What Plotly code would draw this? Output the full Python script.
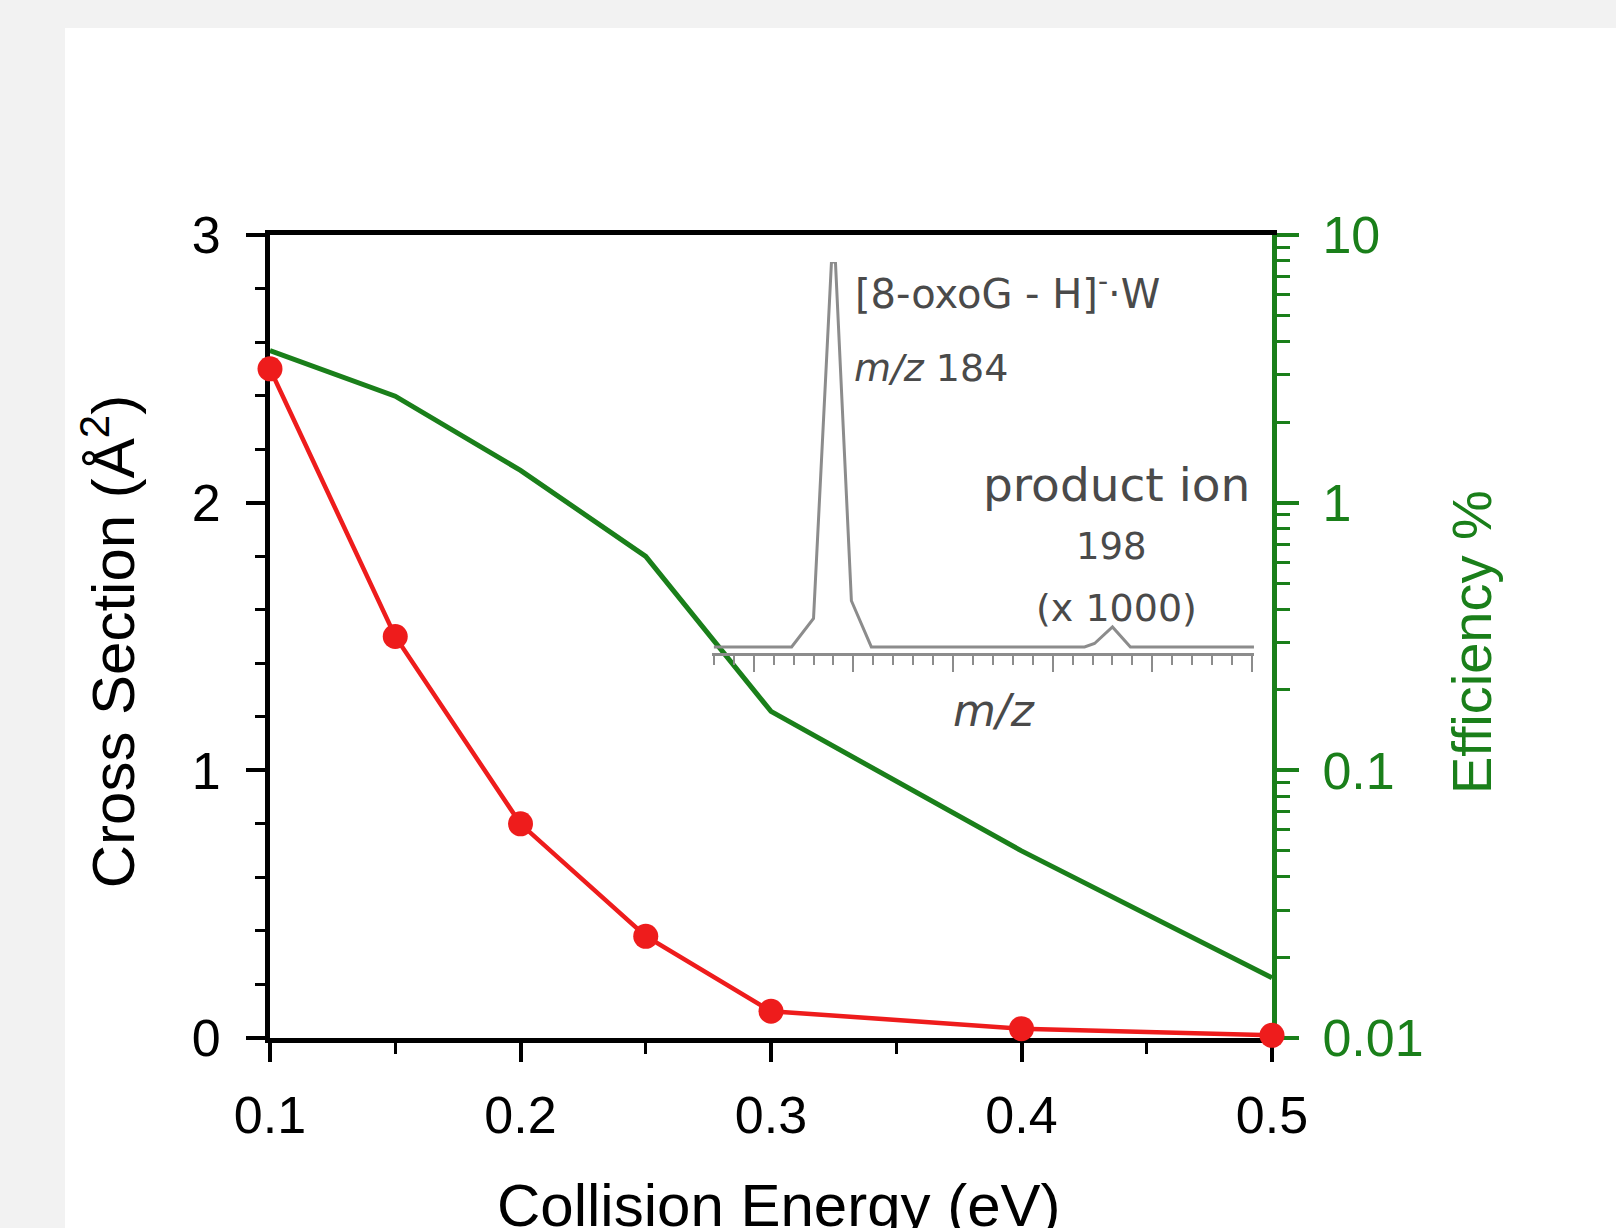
import plotly.graph_objects as go

# ---- data ----
energy = [0.1, 0.15, 0.2, 0.25, 0.3, 0.4, 0.5]
cross_section = [2.50, 1.50, 0.80, 0.38, 0.10, 0.035, 0.01]
efficiency = [3.7, 2.5, 1.32, 0.63, 0.166, 0.050, 0.0168]

spec_mz = [178, 181.9, 183.0, 183.9, 184.1, 184.9, 185.9, 196.6, 197.1, 198.0, 198.9, 205.1]
spec_int = [0, 0, 0.074, 1.0, 1.0, 0.12, 0, 0, 0.009, 0.052, 0, 0]

x_ticks = [0.1, 0.2, 0.3, 0.4, 0.5]
x_tick_text = ["0.1", "0.2", "0.3", "0.4", "0.5"]
x_minor = [0.15, 0.25, 0.35, 0.45]
y_ticks = [0, 1, 2, 3]
y2_ticks = [0.01, 0.1, 1, 10]
y2_tick_text = ["0.01", "0.1", "1", "10"]
y2_minor = [m * 10 ** k for k in (-2, -1, 0) for m in range(2, 10)]
inset_major = [180, 185, 190, 195, 200, 205]
inset_minor = [v for v in range(178, 206) if v % 5 != 0]

RED = "#ee1c1c"
GREEN = "#1a7f1a"
GRAY = "#8c8c8c"
TXT = "#4a4a4a"
FONT = "Liberation Sans, Arial, sans-serif"
IFONT = "DejaVu Sans, sans-serif"

fig = go.Figure()

fig.add_trace(go.Scatter(
    x=energy, y=efficiency, mode="lines", yaxis="y2",
    line=dict(color=GREEN, width=5), cliponaxis=False, showlegend=False))

fig.add_trace(go.Scatter(
    x=energy, y=cross_section, mode="lines+markers",
    line=dict(color=RED, width=4.5), marker=dict(color=RED, size=25),
    cliponaxis=False, showlegend=False))

fig.add_trace(go.Scatter(
    x=spec_mz, y=spec_int, mode="lines", xaxis="x3", yaxis="y3",
    line=dict(color=GRAY, width=3), showlegend=False))

fig.update_layout(
    width=1616, height=1228,
    margin=dict(l=270, r=344, t=235, b=190, pad=0),
    paper_bgcolor="#f2f2f2", plot_bgcolor="rgba(0,0,0,0)",
    font=dict(family=FONT, color="black"),
    xaxis=dict(
        range=[0.1, 0.5], tickmode="array", tickvals=x_ticks, ticktext=x_tick_text,
        ticks="outside", ticklen=19, tickwidth=3.5, tickcolor="black",
        showline=True, linecolor="black", linewidth=5, mirror=True,
        showgrid=False, zeroline=False, layer="below traces",
        tickfont=dict(size=52, color="black", family=FONT), ticklabelstandoff=9,
        minor=dict(tickvals=x_minor, ticks="outside", ticklen=11, tickwidth=3, tickcolor="black"),
    ),
    yaxis=dict(
        range=[0, 3], tickmode="array", tickvals=y_ticks,
        ticks="outside", ticklen=19, tickwidth=3.5, tickcolor="black",
        showline=True, linecolor="black", linewidth=5,
        showgrid=False, zeroline=False, layer="below traces",
        tickfont=dict(size=52, color="black", family=FONT), ticklabelstandoff=15,
        minor=dict(dtick=0.2, ticks="outside", ticklen=10, tickwidth=3, tickcolor="black"),
    ),
    yaxis2=dict(
        type="log", range=[-2, 1], overlaying="y", side="right",
        tickmode="array", tickvals=y2_ticks, ticktext=y2_tick_text,
        ticks="outside", ticklen=22, tickwidth=3.5, tickcolor=GREEN,
        showline=True, linecolor=GREEN, linewidth=5,
        showgrid=False, zeroline=False, layer="below traces",
        tickfont=dict(size=52, color=GREEN, family=FONT), ticklabelstandoff=13,
        minor=dict(tickvals=y2_minor, ticks="outside", ticklen=13, tickwidth=3, tickcolor=GREEN),
    ),
    xaxis3=dict(
        domain=[0.441, 0.982], anchor="y3", range=[177.9, 205.1],
        tickmode="array", tickvals=inset_major, showticklabels=False,
        ticks="outside", ticklen=16, tickwidth=2, tickcolor=GRAY,
        showline=True, linecolor=GRAY, linewidth=2.5,
        showgrid=False, zeroline=False,
        minor=dict(tickvals=inset_minor, ticks="outside", ticklen=9, tickwidth=2, tickcolor=GRAY),
    ),
    yaxis3=dict(
        domain=[0.4795, 0.9664], anchor="x3", range=[-0.0156, 1.0],
        visible=False, showgrid=False, zeroline=False,
    ),
    shapes=[dict(type="rect", xref="paper", yref="paper",
                 x0=-0.2046, x1=1.35, y0=-0.25, y1=1.2578,
                 fillcolor="white", line=dict(width=0), layer="below")],
)

ann = [
    dict(text="Collision Energy (eV)", x=0.5076, y=-0.208, font=dict(size=60, color="black", family=FONT),
         xanchor="center", yanchor="middle"),
    dict(text="Cross Section (Å<sup>2</sup>)", x=-0.1607, y=0.494, textangle=-90,
         font=dict(size=60, color="black", family=FONT), xanchor="center", yanchor="middle"),
    dict(text="Efficiency %", x=1.1986, y=0.493, textangle=-90,
         font=dict(size=56, color=GREEN, family=FONT), xanchor="center", yanchor="middle"),
    dict(text="[8-oxoG - H]<sup>-</sup>·W", x=0.582, y=0.930, font=dict(size=40, color=TXT, family=IFONT),
         xanchor="left", yanchor="middle"),
    dict(text="<i>m/z</i> 184", x=0.581, y=0.834, font=dict(size=38, color=TXT, family=IFONT),
         xanchor="left", yanchor="middle"),
    dict(text="product ion", x=0.980, y=0.689, font=dict(size=47, color=TXT, family=IFONT),
         xanchor="right", yanchor="middle"),
    dict(text="198", x=0.840, y=0.6127, font=dict(size=37, color=TXT, family=IFONT),
         xanchor="center", yanchor="middle"),
    dict(text="(x 1000)", x=0.845, y=0.5355, font=dict(size=38, color=TXT, family=IFONT),
         xanchor="center", yanchor="middle"),
    dict(text="<i>m/z</i>", x=0.7226, y=0.4077, font=dict(size=44, color=TXT, family=IFONT),
         xanchor="center", yanchor="middle"),
]
for a in ann:
    a.update(xref="paper", yref="paper", showarrow=False)
fig.update_layout(annotations=ann)

fig.write_html("out.html", config={"displayModeBar": False},
               post_script="document.body.style.margin='0';document.body.style.overflow='hidden';")
